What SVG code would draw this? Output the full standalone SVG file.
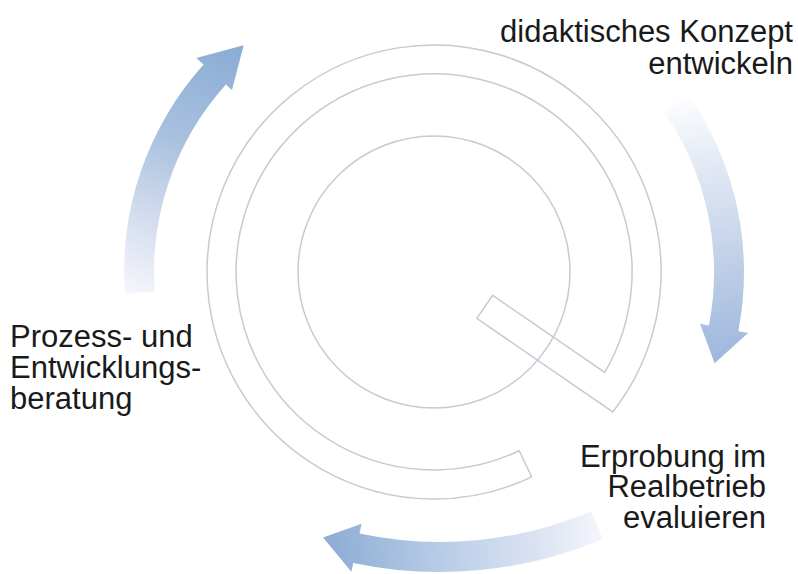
<svg xmlns="http://www.w3.org/2000/svg" width="798" height="574" viewBox="0 0 798 574">
  <defs>
    <linearGradient id="gLeft" gradientUnits="userSpaceOnUse" x1="140" y1="298" x2="238" y2="50">
      <stop offset="0" stop-color="#f6f6fc"/>
      <stop offset="0.25" stop-color="#d8e0f0"/>
      <stop offset="0.6" stop-color="#a9c1df"/>
      <stop offset="1" stop-color="#8badd5"/>
    </linearGradient>
    <linearGradient id="gRight" gradientUnits="userSpaceOnUse" x1="670" y1="95" x2="720" y2="360">
      <stop offset="0" stop-color="#ffffff"/>
      <stop offset="0.2" stop-color="#eaeff8"/>
      <stop offset="0.6" stop-color="#c5d3ea"/>
      <stop offset="1" stop-color="#9db7dc"/>
    </linearGradient>
    <linearGradient id="gBottom" gradientUnits="userSpaceOnUse" x1="605" y1="530" x2="325" y2="545">
      <stop offset="0" stop-color="#f7f7fd"/>
      <stop offset="0.2" stop-color="#e0e6f4"/>
      <stop offset="0.55" stop-color="#bccfe8"/>
      <stop offset="1" stop-color="#8cacd4"/>
    </linearGradient>
  </defs>
  <style>
    .q { fill: none; stroke: #c6cad4; stroke-width: 1.5; }
    .lbl { font-family: "Liberation Sans", Arial, sans-serif; font-size: 31px; fill: #1a1a1a; }
    .end { text-anchor: end; }
  </style>
  <rect width="798" height="574" fill="#ffffff"/>

  <g id="q-symbol">
    <path class="q" d="M 612.8 411.9 A 227 227 0 1 0 531.7 476.9 L 519.2 450.7 A 198 198 0 1 1 604.7 372.4 L 492.7 295.4 L 476.8 318.4 Z"/>
    <circle class="q" cx="434" cy="272" r="136"/>
  </g>

  <g id="connectors">
    <path id="arrow-left" fill="url(#gLeft)" d="M 124.8 293.6 A 310 310 0 0 1 203.6 64.6 L 196.2 57.9 L 243.7 45.3 L 232 90 L 225.9 84.6 A 280 280 0 0 0 154.7 291.5 Z"/>
    <path id="arrow-right" fill="url(#gRight)" d="M 687.9 94.2 A 310 310 0 0 1 738.3 331.2 L 748.1 333.1 L 714.6 363.2 L 700.0 323.7 L 708.9 325.4 A 280 280 0 0 0 663.4 111.4 Z"/>
    <path id="arrow-bottom" fill="url(#gBottom)" d="M 602.9 538.9 A 417 417 0 0 1 353.3 562.9 L 351.4 571.7 L 323.1 537.5 L 361.6 523.8 L 359.5 533.5 A 387 387 0 0 0 591.2 511.2 Z"/>
  </g>

  <g id="node-konzept">
    <text class="lbl end" x="793" y="42">didaktisches Konzept</text>
    <text class="lbl end" x="793" y="73.5">entwickeln</text>
  </g>
  <g id="node-erprobung">
    <text class="lbl end" x="766" y="467">Erprobung im</text>
    <text class="lbl end" x="766" y="497">Realbetrieb</text>
    <text class="lbl end" x="766" y="528">evaluieren</text>
  </g>
  <g id="node-beratung">
    <text class="lbl" x="10" y="347">Prozess- und</text>
    <text class="lbl" x="10" y="378">Entwicklungs-</text>
    <text class="lbl" x="10" y="409">beratung</text>
  </g>
</svg>
